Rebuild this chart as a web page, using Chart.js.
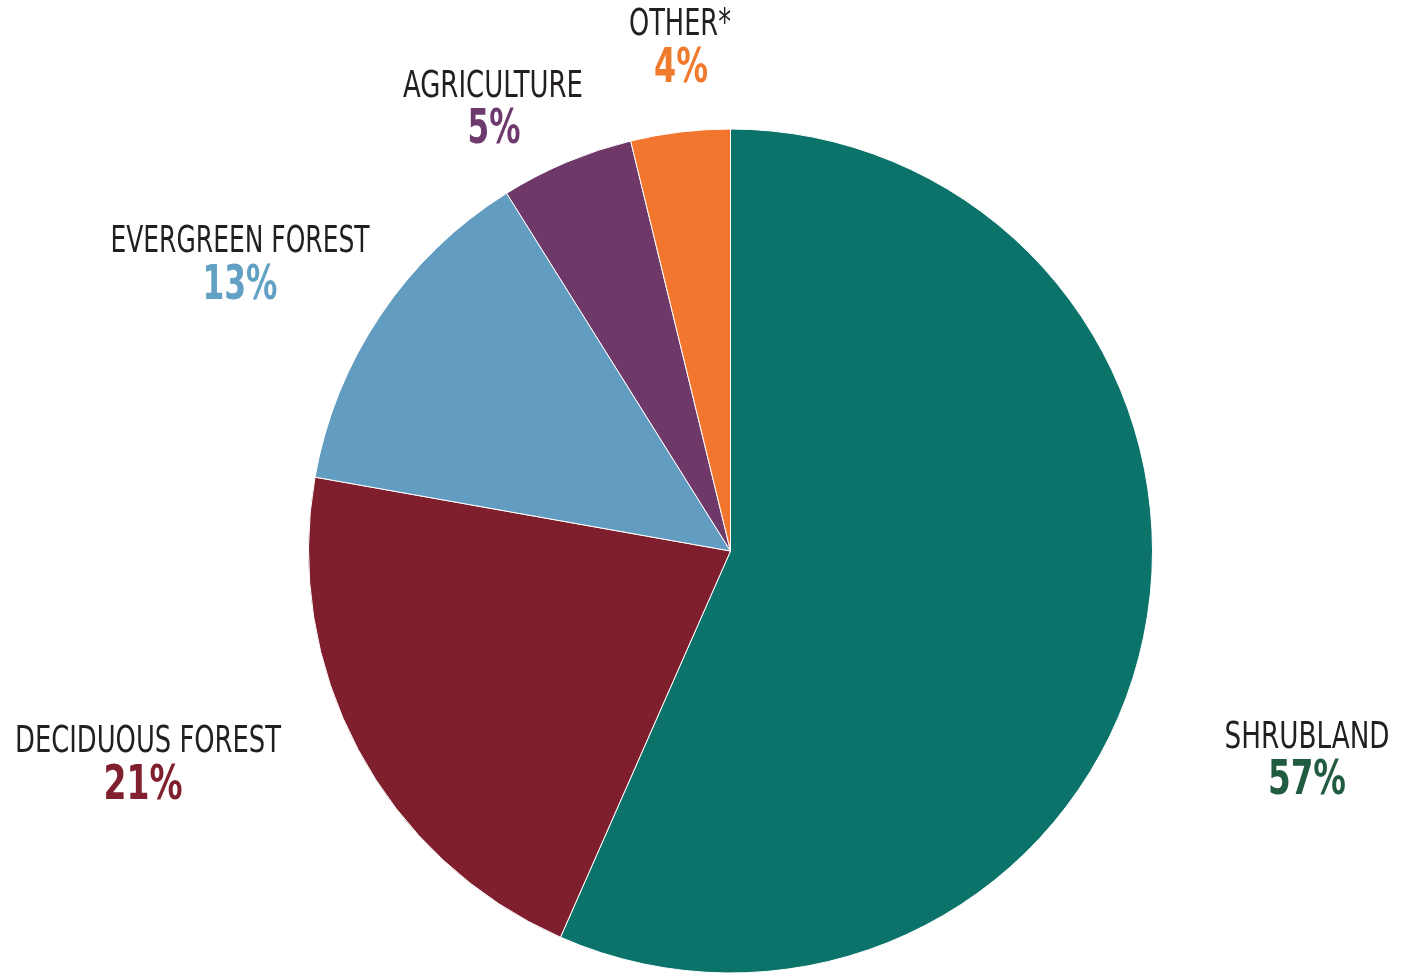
<!DOCTYPE html>
<html><head><meta charset="utf-8">
<script src="https://cdn.jsdelivr.net/npm/chart.js@4.4.1/dist/chart.umd.min.js"></script>
<style>html,body{margin:0;padding:0;background:#fff;}#wrap{width:1403px;height:974px;position:relative;}</style>
</head><body><div id="wrap"><canvas id="c" width="1403" height="974"></canvas></div>
<script>
const categories = ['SHRUBLAND', 'DECIDUOUS FOREST', 'EVERGREEN FOREST', 'AGRICULTURE', 'OTHER*'];
const shares = [56.6, 21.2, 13.3, 5.1, 3.8];
const percentLabels = ['57%', '21%', '13%', '5%', '4%'];
const sliceColors = ['#0b736a', '#7f1f2e', '#629cc0', '#6e3868', '#f2762e'];
const labelColors = ['#225c40', '#80202f', '#62a0c4', '#6e3a6d', '#f07a2e'];
// label anchor positions (layout only)
const labelPos = [[1307, 738], [148, 742], [240, 242], [493, 87], [680, 25]];
const pctPos = [[1307, 782], [143, 787], [240, 287], [494, 131], [681, 70]];
const nameWidths = [165, 266, 259, 180, 102];
const pctWidths = [78, 79, 75, 53, 54];

const labelPlugin = {
  id: 'labels',
  afterDraw(chart) {
    const ctx = chart.ctx;
    ctx.save();
    ctx.textAlign = 'center';
    ctx.textBaseline = 'middle';
    const drawFit = (text, x, y, w, font, color) => {
      ctx.font = font;
      const sx = w / ctx.measureText(text).width;
      ctx.fillStyle = color;
      ctx.save();
      ctx.translate(x, y);
      ctx.scale(sx, 1);
      ctx.fillText(text, 0, 0);
      ctx.restore();
    };
    categories.forEach((name, i) => {
      drawFit(name, labelPos[i][0], labelPos[i][1], nameWidths[i],
        '38px "DejaVu Sans Condensed", "Liberation Sans Narrow", sans-serif', '#231f20');
      drawFit(percentLabels[i], pctPos[i][0], pctPos[i][1], pctWidths[i],
        'bold 48px "DejaVu Sans Condensed", "Liberation Sans Narrow", sans-serif', labelColors[i]);
    });
    ctx.restore();
  }
};

new Chart(document.getElementById('c'), {
  type: 'pie',
  data: {
    labels: categories,
    datasets: [{
      data: shares,
      backgroundColor: sliceColors,
      borderColor: '#ffffff',
      borderWidth: 1,
      hoverOffset: 0
    }]
  },
  options: {
    responsive: false,
    animation: false,
    layout: { padding: { top: 128, bottom: 0, left: 308, right: 250 } },
    plugins: { legend: { display: false }, tooltip: { enabled: false } }
  },
  plugins: [labelPlugin]
});
</script></body></html>
